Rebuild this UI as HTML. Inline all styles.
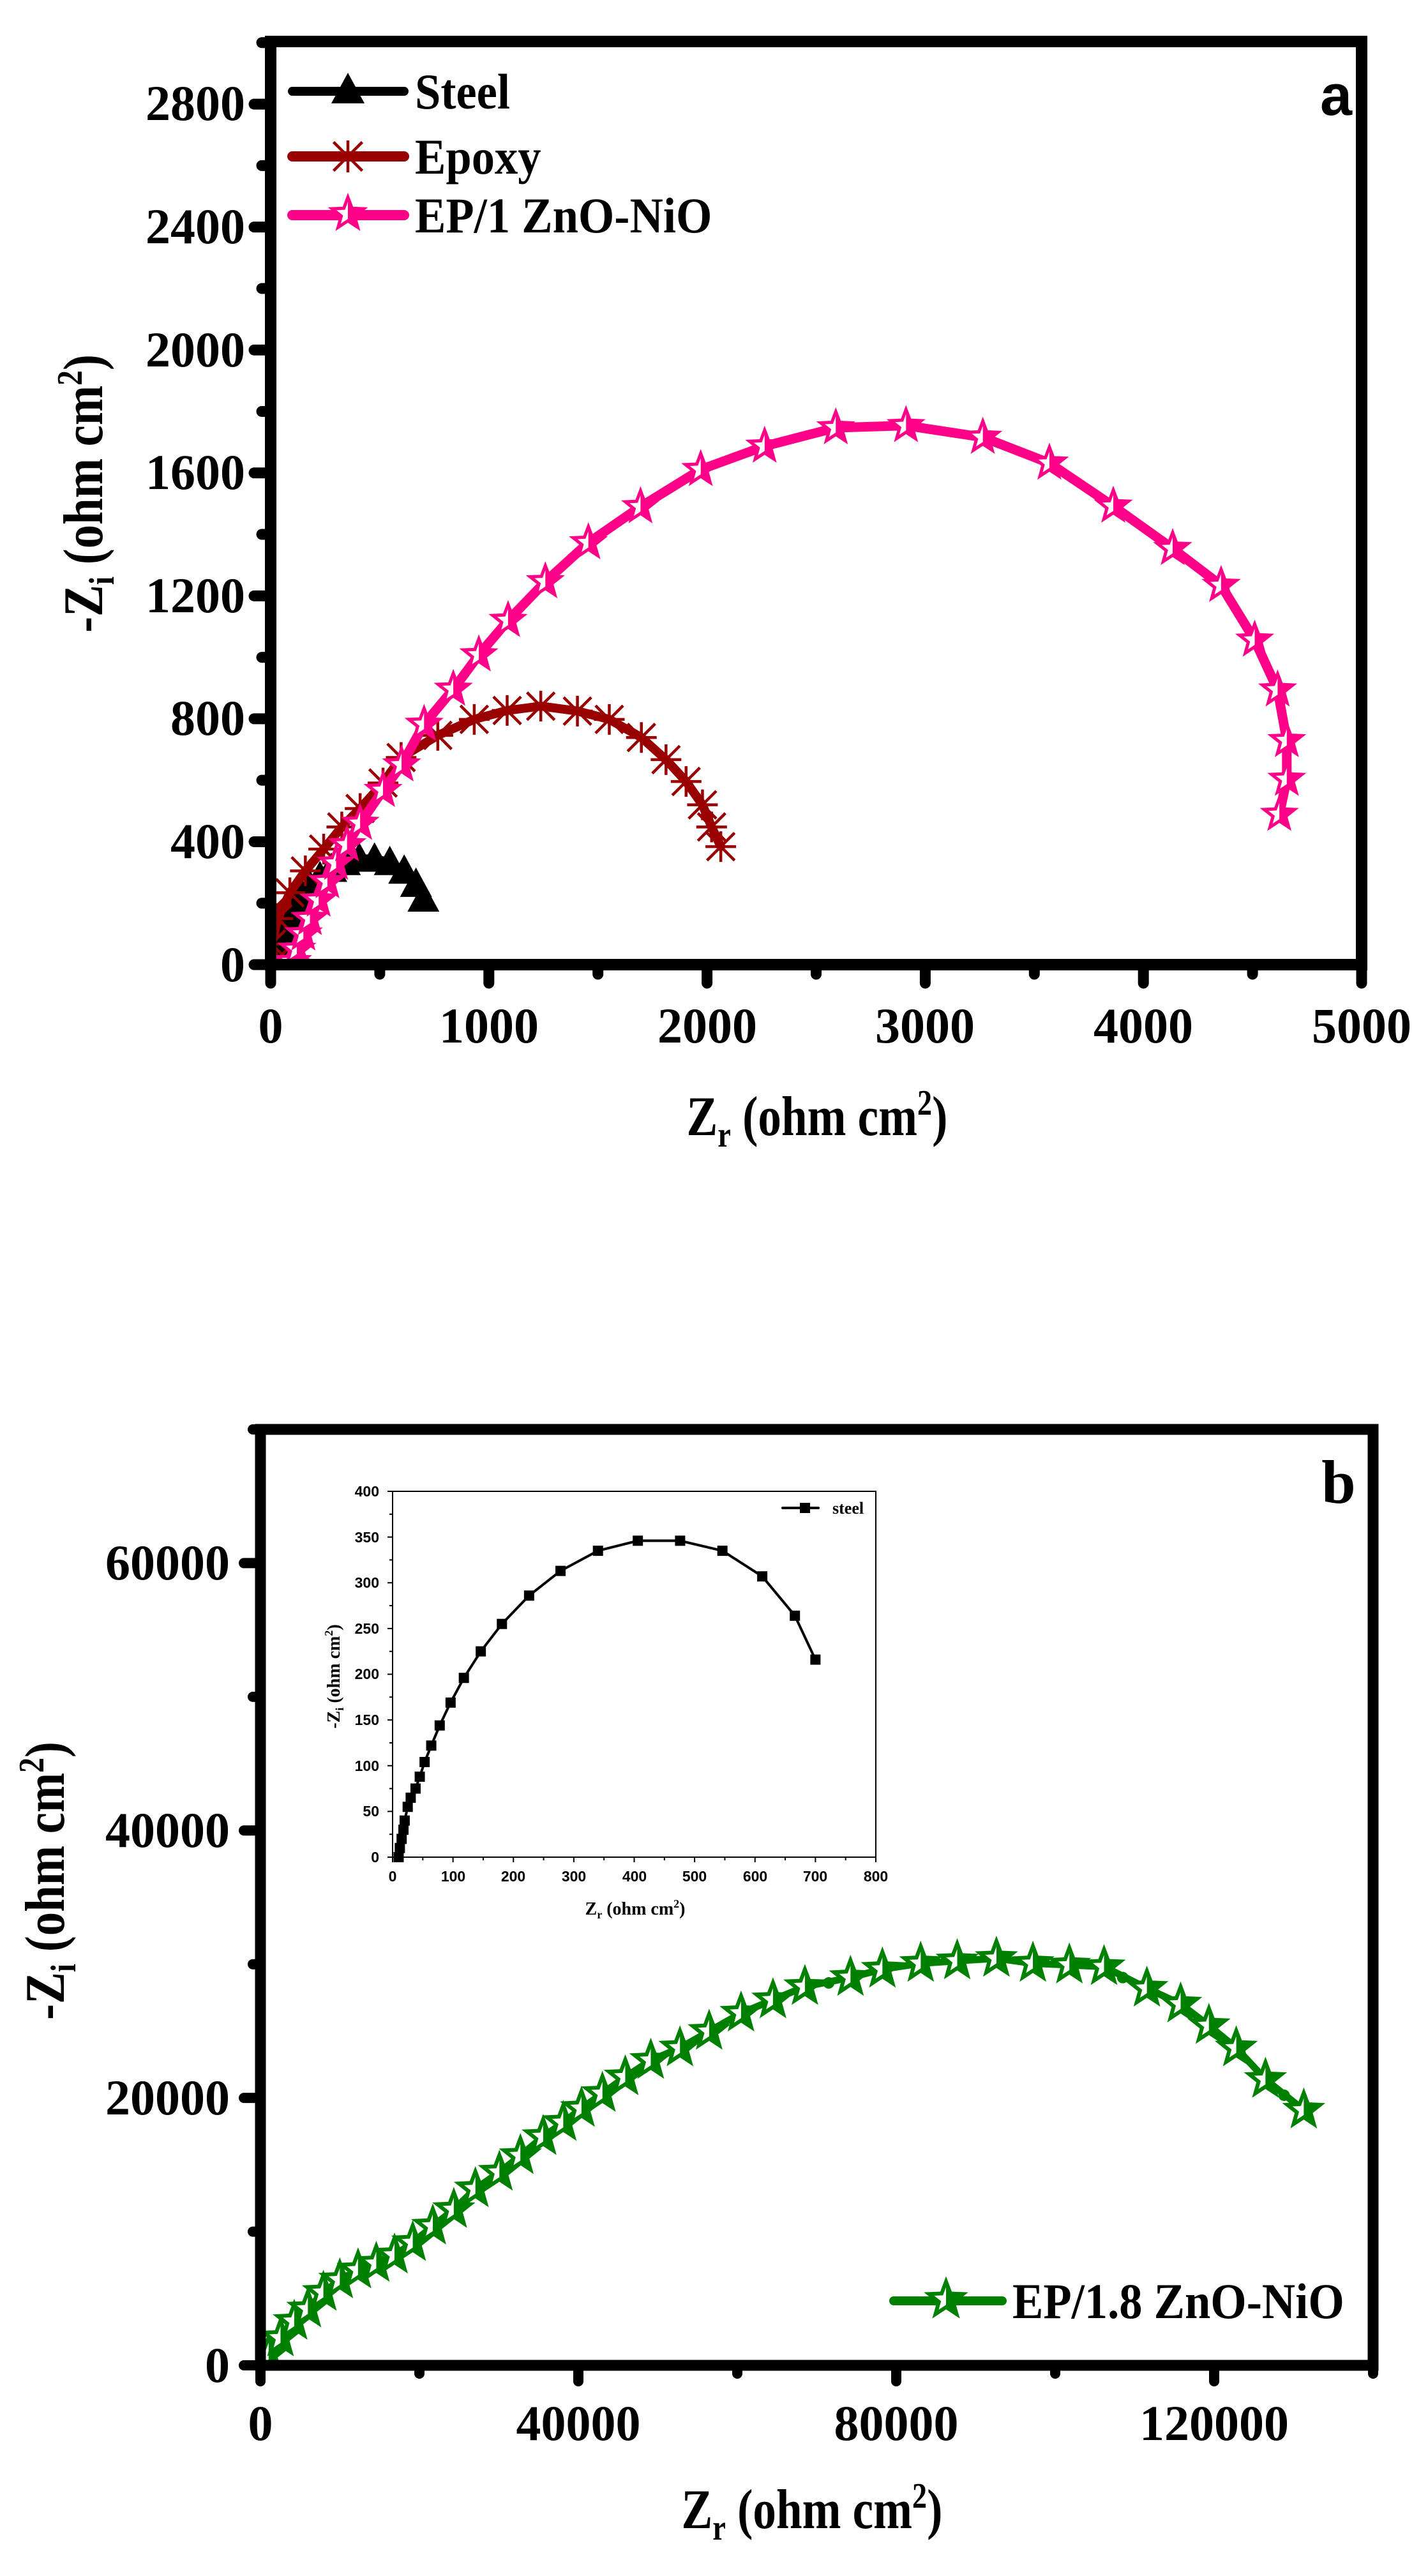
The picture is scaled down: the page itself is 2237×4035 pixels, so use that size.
<!DOCTYPE html>
<html><head><meta charset="utf-8"><style>
html,body{margin:0;padding:0;background:#fff}
svg{display:block}
.t{font-family:"Liberation Serif",serif;font-weight:bold;fill:#000}
.s{font-family:"Liberation Sans",sans-serif;font-weight:bold;fill:#000}
</style></head><body>
<svg id="c" width="2237" height="4035" viewBox="0 0 2237 4035" xmlns="http://www.w3.org/2000/svg">
<defs>
<clipPath id="clipA"><rect x="424" y="65" width="1709" height="1446"/></clipPath>
<clipPath id="clipB"><rect x="408" y="2239" width="1743" height="1466"/></clipPath>
</defs>
<rect width="2237" height="4035" fill="#fff"/>
<g id="plotA"></g>
<g id="plotB"></g>
<g id="inset"></g>
<!-- Plot a texts -->
<g class="t" font-size="78" text-anchor="end">
<text x="384" y="1537">0</text>
<text x="384" y="1344">400</text>
<text x="384" y="1151">800</text>
<text x="384" y="959">1200</text>
<text x="384" y="766">1600</text>
<text x="384" y="574">2000</text>
<text x="384" y="381">2400</text>
<text x="384" y="188">2800</text>
</g>
<g class="t" font-size="78" text-anchor="middle">
<text x="424" y="1633">0</text>
<text x="766" y="1633">1000</text>
<text x="1108" y="1633">2000</text>
<text x="1449" y="1633">3000</text>
<text x="1791" y="1633">4000</text>
<text x="2133" y="1633">5000</text>
</g>
<g transform="translate(1280,1778) scale(0.83,1)"><text class="t" font-size="88" x="0" y="0" text-anchor="middle">Z<tspan font-size="56" dy="18">r</tspan><tspan dy="-18"> (ohm cm</tspan><tspan font-size="56" dy="-32">2</tspan><tspan dy="32">)</tspan></text></g>
<g transform="translate(160,773) rotate(-90) scale(0.85,1)"><text class="t" font-size="88" x="0" y="0" text-anchor="middle">-Z<tspan font-size="56" dy="18">i</tspan><tspan dy="-18"> (ohm cm</tspan><tspan font-size="56" dy="-32">2</tspan><tspan dy="32">)</tspan></text></g>
<text class="s" font-size="90" x="2093" y="180" text-anchor="middle">a</text>
<g class="t" font-size="78" transform="translate(650,0) scale(0.93,1)">
<text x="0" y="170">Steel</text>
<text x="0" y="272">Epoxy</text>
<text x="0" y="364">EP/1 ZnO-NiO</text>
</g>
<!-- Plot b texts -->
<g class="t" font-size="78" text-anchor="end">
<text x="360" y="3731">0</text>
<text x="360" y="3312">20000</text>
<text x="360" y="2893">40000</text>
<text x="360" y="2474">60000</text>
</g>
<g class="t" font-size="78" text-anchor="middle">
<text x="408" y="3822">0</text>
<text x="906" y="3822">40000</text>
<text x="1404" y="3822">80000</text>
<text x="1902" y="3822">120000</text>
</g>
<g transform="translate(1272,3960) scale(0.83,1)"><text class="t" font-size="88" x="0" y="0" text-anchor="middle">Z<tspan font-size="56" dy="18">r</tspan><tspan dy="-18"> (ohm cm</tspan><tspan font-size="56" dy="-32">2</tspan><tspan dy="32">)</tspan></text></g>
<g transform="translate(100,2946) rotate(-90) scale(0.85,1)"><text class="t" font-size="88" x="0" y="0" text-anchor="middle">-Z<tspan font-size="56" dy="18">i</tspan><tspan dy="-18"> (ohm cm</tspan><tspan font-size="56" dy="-32">2</tspan><tspan dy="32">)</tspan></text></g>
<text class="t" font-size="96" x="2097" y="2354" text-anchor="middle">b</text>
<g transform="translate(1586,3631) scale(0.93,1)"><text class="t" font-size="78" x="0" y="0">EP/1.8 ZnO-NiO</text></g>
<!-- inset texts -->
<g class="s" font-size="23" text-anchor="end">
<text x="594" y="2917">0</text>
<text x="594" y="2845">50</text>
<text x="594" y="2774">100</text>
<text x="594" y="2702">150</text>
<text x="594" y="2630">200</text>
<text x="594" y="2559">250</text>
<text x="594" y="2487">300</text>
<text x="594" y="2416">350</text>
<text x="594" y="2344">400</text>
</g>
<g class="s" font-size="23" text-anchor="middle">
<text x="615" y="2947">0</text>
<text x="710" y="2947">100</text>
<text x="804" y="2947">200</text>
<text x="899" y="2947">300</text>
<text x="994" y="2947">400</text>
<text x="1088" y="2947">500</text>
<text x="1183" y="2947">600</text>
<text x="1277" y="2947">700</text>
<text x="1372" y="2947">800</text>
</g>
<text class="t" font-size="28" x="995" y="2999" text-anchor="middle">Z<tspan font-size="18" dy="6">r</tspan><tspan dy="-6"> (ohm cm</tspan><tspan font-size="18" dy="-11">2</tspan><tspan dy="11">)</tspan></text>
<text class="t" font-size="28" transform="translate(532,2626) rotate(-90)" text-anchor="middle">-Z<tspan font-size="18" dy="6">i</tspan><tspan dy="-6"> (ohm cm</tspan><tspan font-size="18" dy="-11">2</tspan><tspan dy="11">)</tspan></text>
<text class="t" font-size="26" x="1304" y="2371">steel</text>
</svg>
<script>
var NS="http://www.w3.org/2000/svg";
function el(p,tag,a){var e=document.createElementNS(NS,tag);for(var k in a)e.setAttribute(k,a[k]);p.appendChild(e);return e;}
function starPts(cx,cy,R){var r=R*0.42,s="";for(var i=0;i<10;i++){var ang=-Math.PI/2+i*Math.PI/5,rr=i%2?r:R;s+=(cx+rr*Math.cos(ang)).toFixed(1)+","+(cy+rr*Math.sin(ang)).toFixed(1)+" ";}return s;}
var cid=0;
function halfStar(g,cx,cy,R,col,sw){
  el(g,"polygon",{points:starPts(cx,cy,R),fill:"#fff",stroke:col,"stroke-width":sw,"stroke-linejoin":"miter"});
  cid++;var d=el(document.querySelector("defs"),"clipPath",{id:"hs"+cid});el(d,"rect",{x:cx,y:cy-R-5,width:R+5,height:2*R+10});
  el(g,"polygon",{points:starPts(cx,cy,R),fill:col,"clip-path":"url(#hs"+cid+")"});
}
function tri(g,cx,cy,s){el(g,"polygon",{points:(cx)+","+(cy-s*0.5)+" "+(cx+s*0.5)+","+(cy+s*0.42)+" "+(cx-s*0.5)+","+(cy+s*0.42),fill:"#000"});}
function ast(g,cx,cy,s,col){var h=s/2;var o={stroke:col,"stroke-width":4.5};
 el(g,"line",Object.assign({x1:cx,y1:cy-h,x2:cx,y2:cy+h},o));
 el(g,"line",Object.assign({x1:cx-h,y1:cy,x2:cx+h,y2:cy},o));
 el(g,"line",Object.assign({x1:cx-h*0.9,y1:cy-h*0.9,x2:cx+h*0.9,y2:cy+h*0.9},o));
 el(g,"line",Object.assign({x1:cx-h*0.9,y1:cy+h*0.9,x2:cx+h*0.9,y2:cy-h*0.9},o));}
function poly(g,pts,col,w){el(g,"polyline",{points:pts.map(function(p){return p[0].toFixed(1)+","+p[1].toFixed(1)}).join(" "),fill:"none",stroke:col,"stroke-width":w,"stroke-linejoin":"round","stroke-linecap":"round"});}

var steel=[[10,0],[12,10],[15,20],[18,30],[20,40],[25,55],[30,65],[38,75],[45,88],[53,104],[64,122],[78,144],[96,169],[118,196],[146,225],[181,255],[226,286],[278,313],[340,335],[406,346],[476,346],[546,335],[612,307],[666,264],[700,216]];

(function(){
 var g=document.getElementById("plotA");
 function X(v){return 424+v*0.3418;} function Y(v){return 1511-v*0.4814;}
 var pink=[[90,0],[100,10],[120,50],[150,100],[180,150],[220,210],[260,270],[300,330],[350,390],[410,460],[515,567],[600,650],[703,782],[837,896],[954,1008],[1088,1120],[1259,1246],[1456,1373],[1695,1490],[1971,1611],[2264,1687],[2590,1747],[2912,1754],[3264,1716],[3569,1632],[3862,1492],[4134,1354],[4356,1234],[4510,1056],[4615,894],[4657,729],[4657,603],[4623,489]];
 var epo=[[20,10],[4,67],[33,150],[88,234],[159,305],[243,376],[326,448],[410,508],[515,591],[598,674],[766,746],[933,798],[1084,827],[1238,841],[1406,825],[1552,798],[1699,739],[1812,667],[1904,596],[1979,520],[2021,448],[2063,384]];
 var gc=el(g,"g",{"clip-path":"url(#clipA)"});
 poly(gc,steel.map(function(p){return [X(p[0]),Y(p[1])]}),"#000",12);
 steel.forEach(function(p){tri(gc,X(p[0]),Y(p[1]),50);});
 poly(gc,epo.map(function(p){return [X(p[0]),Y(p[1])]}),"#990000",14);
 epo.forEach(function(p){ast(gc,X(p[0]),Y(p[1]),48,"#990000");});
 poly(gc,pink.map(function(p){return [X(p[0]),Y(p[1])]}),"#ff0088",15);
 pink.forEach(function(p){halfStar(gc,X(p[0]),Y(p[1]),25,"#ff0088",5);});
 el(g,"rect",{x:424,y:65,width:1709,height:1446,fill:"none",stroke:"#000","stroke-width":18});
 for(var v=0;v<=3000;v+=200){var y=Y(v);var maj=(v%400==0);el(g,"line",{x1:424,y1:y,x2:maj?398:410,y2:y,stroke:"#000","stroke-width":17,"stroke-linecap":"round"});}
 for(var v=0;v<=5000;v+=500){var x=X(v);var maj=(v%1000==0);el(g,"line",{x1:x,y1:1511,x2:x,y2:maj?1540:1526,stroke:"#000","stroke-width":17,"stroke-linecap":"round"});}
 poly(g,[[458,143],[633,143]],"#000",14); tri(g,545,140,52);
 poly(g,[[458,245],[633,245]],"#990000",16); ast(g,545,245,50,"#990000");
 poly(g,[[458,337],[633,337]],"#ff0088",16); halfStar(g,545,335,26,"#ff0088",5);
})();

(function(){
 var g=document.getElementById("plotB");
 function X(v){return 408+v*0.01245;} function Y(v){return 3705-v*0.020943;}
 var gr=[[1033,806],[2525,2045],[4245,3285],[5967,4215],[7918,5454],[9983,6384],[12278,7128],[14573,7623],[16868,8243],[19163,9173],[21687,10413],[24326,11652],[27045,13202],[30064,14441],[32704,15681],[35573,17106],[38097,18160],[40392,19214],[43031,20329],[45900,21569],[49113,22809],[52785,23738],[56457,24978],[60474,26342],[64490,27333],[68506,28325],[74243,29007],[78260,29627],[83079,30061],[87669,30247],[92604,30433],[97193,30061],[101783,29937],[106144,29813],[111537,28201],[115783,27023],[119340,25412],[122783,23738],[126455,21383],[131274,19090]];
 var gc=el(g,"g",{"clip-path":"url(#clipB)"});
 poly(gc,gr.map(function(p){return [X(p[0]),Y(p[1])]}),"#008000",11);
 [[71500,28600],[108500,29000],[128800,20200]].forEach(function(p){el(gc,"circle",{cx:X(p[0]),cy:Y(p[1]),r:9,fill:"#008000"});});
 gr.forEach(function(p){halfStar(gc,X(p[0]),Y(p[1]),27,"#008000",6);});
 el(g,"rect",{x:408,y:2239,width:1743,height:1466,fill:"none",stroke:"#000","stroke-width":17});
 for(var v=0;v<=70000;v+=10000){var y=Y(v);var maj=(v%20000==0);el(g,"line",{x1:408,y1:y,x2:maj?382:396,y2:y,stroke:"#000","stroke-width":16,"stroke-linecap":"round"});}
 for(var v=0;v<=140000;v+=20000){var x=X(v);var maj=(v%40000==0);el(g,"line",{x1:x,y1:3705,x2:x,y2:maj?3730:3718,stroke:"#000","stroke-width":16,"stroke-linecap":"round"});}
 poly(g,[[1400,3604],[1570,3604]],"#008000",14); halfStar(g,1482,3602,28,"#008000",6);
})();

(function(){
 var g=document.getElementById("inset");
 function X(v){return 615+v*0.94625;} function Y(v){return 2909-v*1.4325;}
 el(g,"rect",{x:615,y:2336,width:757,height:573,fill:"none",stroke:"#000","stroke-width":2});
 for(var v=0;v<=400;v+=25){var y=Y(v);el(g,"line",{x1:615,y1:y,x2:v%50==0?607:610,y2:y,stroke:"#000","stroke-width":2});}
 for(var v=0;v<=800;v+=50){var x=X(v);el(g,"line",{x1:x,y1:2909,x2:x,y2:v%100==0?2917:2914,stroke:"#000","stroke-width":2});}
 poly(g,steel.map(function(p){return [X(p[0]),Y(p[1])]}),"#000",4);
 steel.forEach(function(p){el(g,"rect",{x:X(p[0])-8,y:Y(p[1])-8,width:16,height:16,fill:"#000"});});
 poly(g,[[1226,2362],[1282,2362]],"#000",4);
 el(g,"rect",{x:1253,y:2354,width:16,height:16,fill:"#000"});
})();
</script>
</body></html>
